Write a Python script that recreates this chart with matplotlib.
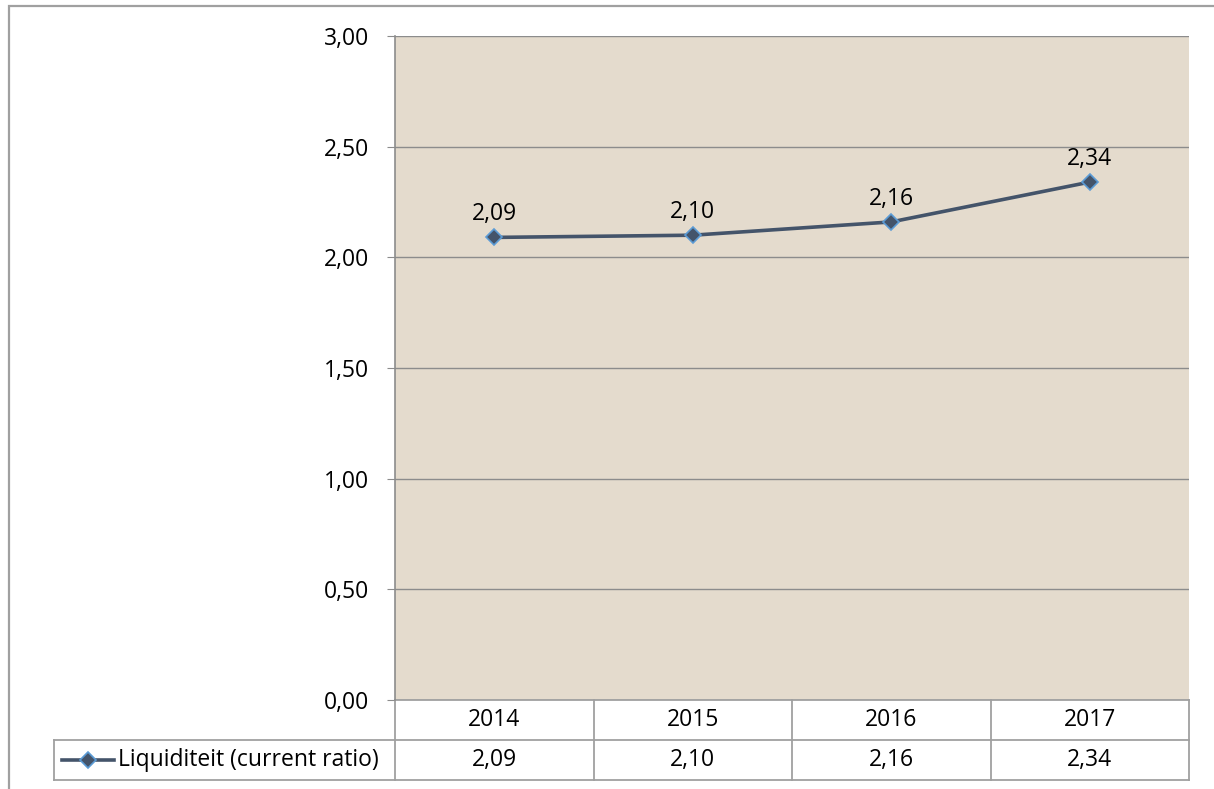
import matplotlib.pyplot as plt
import matplotlib.transforms as mtransforms
from matplotlib.patches import Rectangle
from matplotlib.lines import Line2D

# data
years = ["2014", "2015", "2016", "2017"]
ratio = [2.09, 2.10, 2.16, 2.34]
series_name = "Liquiditeit (current ratio)"
yticks = [0.0, 0.5, 1.0, 1.5, 2.0, 2.5, 3.0]

plt.rcParams['font.family'] = ['Open Sans', 'DejaVu Sans']
FS = 16.5

W, H = 1214, 789
fig = plt.figure(figsize=(W / 100, H / 100), dpi=100)
fig.patch.set_facecolor("white")

# outer chart border (runs off the right/bottom edge)
fig.patches.append(Rectangle((9 / W, -0.1), 1.2, 1.1 - 6 / H, transform=fig.transFigure,
                             fill=False, edgecolor="#a0a0a0", linewidth=1.6))

ax = fig.add_axes([395 / W, 1 - 700 / H, 794 / W, 664 / H])
ax.set_facecolor("#e4dbcd")

line_col = "#44546a"
edge_col = "#5b9bd5"
x = list(range(len(years)))
ax.plot(x, ratio, color=line_col, linewidth=2.6, marker="D", markersize=8,
        markerfacecolor=line_col, markeredgecolor=edge_col, markeredgewidth=1.2, zorder=3)

for xi, v in zip(x, ratio):
    ax.annotate(f"{v:.2f}".replace(".", ","), (xi, v), xytext=(0, 8), textcoords="offset points",
                ha="center", va="bottom", fontsize=FS)

ax.set_xlim(-0.5, len(years) - 0.5)
ax.set_ylim(0, 3.0)
ax.set_yticks(yticks)
ax.set_yticklabels([f"{t:.2f}".replace(".", ",") for t in yticks], fontsize=FS)
ax.set_xticks([])
ax.yaxis.grid(True, color="#8c8c8c", linewidth=1)
ax.set_axisbelow(True)
for s in ["top", "right", "bottom"]:
    ax.spines[s].set_visible(False)
ax.spines["left"].set_color("#8c8c8c")
ax.spines["left"].set_linewidth(1.2)
ax.tick_params(axis="y", length=6, color="#8c8c8c", pad=12.5)

# data table below the plot
tr = mtransforms.blended_transform_factory(ax.transData, ax.transAxes)
row_h = 40 / 664
grid_col = "#a0a0a0"
legend_left = (54 - 395) / 794
ax.add_line(Line2D([-0.5, len(years) - 0.5], [0, 0], transform=tr, color=grid_col,
                   lw=1.3, clip_on=False))
for k in (1, 2):
    ax.add_line(Line2D([legend_left, 1.0], [-k * row_h] * 2, transform=ax.transAxes,
                       color=grid_col, lw=1.3, clip_on=False))
ax.add_line(Line2D([legend_left] * 2, [-row_h, -2 * row_h], transform=ax.transAxes,
                   color=grid_col, lw=1.3, clip_on=False))
for b in range(len(years) + 1):
    ax.add_line(Line2D([b - 0.5, b - 0.5], [0, -2 * row_h], transform=tr, color=grid_col,
                       lw=1.3, clip_on=False))
for xi, yr, v in zip(x, years, ratio):
    ax.text(xi, -0.5 * row_h, yr, transform=tr, ha="center", va="center", fontsize=FS)
    ax.text(xi, -1.5 * row_h, f"{v:.2f}".replace(".", ","), transform=tr, ha="center",
            va="center", fontsize=FS)

# legend key inside the table
ax.add_line(Line2D([(62 - 395) / 794, (114 - 395) / 794], [-1.5 * row_h] * 2,
                   transform=ax.transAxes, color=line_col, lw=2.6, clip_on=False))
ax.add_line(Line2D([(88 - 395) / 794], [-1.5 * row_h], transform=ax.transAxes, marker="D",
                   markersize=8, markerfacecolor=line_col, markeredgecolor=edge_col,
                   markeredgewidth=1.2, clip_on=False))
ax.text((118 - 395) / 794, -1.5 * row_h, series_name, transform=ax.transAxes, ha="left",
        va="center", fontsize=FS)

fig.savefig("out.png", dpi=100)
